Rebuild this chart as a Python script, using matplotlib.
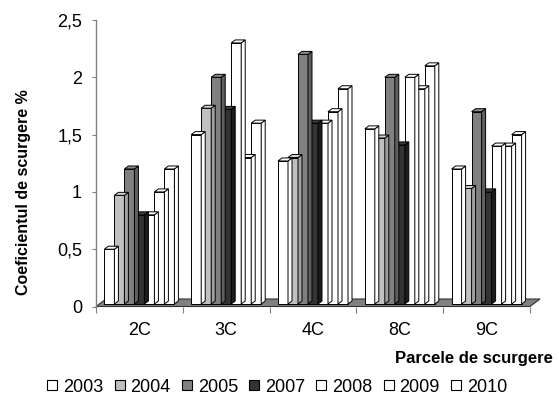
import numpy as np
import matplotlib
matplotlib.use("Agg")
import matplotlib.pyplot as plt
from matplotlib.patches import Polygon
from matplotlib.lines import Line2D

# ---- data ----
categories = ["2C", "3C", "4C", "8C", "9C"]
years = ["2003", "2004", "2005", "2007", "2008", "2009", "2010"]
v2003 = [0.50, 1.50, 1.27, 1.55, 1.20]
v2004 = [0.97, 1.73, 1.30, 1.47, 1.03]
v2005 = [1.20, 2.00, 2.20, 2.00, 1.70]
v2007 = [0.80, 1.72, 1.60, 1.41, 1.00]
v2008 = [0.80, 2.30, 1.60, 2.00, 1.40]
v2009 = [1.00, 1.30, 1.70, 1.90, 1.40]
v2010 = [1.20, 1.60, 1.90, 2.10, 1.50]
series = [v2003, v2004, v2005, v2007, v2008, v2009, v2010]
yticks = [0, 0.5, 1, 1.5, 2, 2.5]
ytick_labels = ["0", "0,5", "1", "1,5", "2", "2,5"]

# ---- style ----
front_cols = ["white", "#c0c0c0", "#808080", "#333333", "white", "white", "white"]
side_cols = ["white", "#a0a0a0", "#606060", "#1c1c1c", "white", "white", "white"]
top_cols = ["white", "#d0d0d0", "#8c8c8c", "#3c3c3c", "white", "white", "white"]

plt.rcParams['font.family'] = ['Liberation Sans', 'DejaVu Sans']

W, H = 559, 394
fig = plt.figure(figsize=(W / 100, H / 100), dpi=100)
x0, x1, ytop, ybot = 96, 530, 20, 306.5
ax = fig.add_axes([x0 / W, 1 - ybot / H, (x1 - x0) / W, (ybot - ytop) / H])
ax.set_xlim(-0.5, 4.5)
ax.set_ylim(0, 2.5)

px_cat = (x1 - x0) / 5.0
px_val = (ybot - ytop) / 2.5
w = 10 / px_cat
dx = 4 / px_cat
dy = 3 / px_val
b = 2.5 / px_val
fdx = 10 / px_cat
fdy = 7.5 / px_val

# floor
floor = Polygon([(-0.5, 0), (4.5, 0), (4.5 + fdx, fdy), (-0.5 + fdx, fdy)],
                closed=True, facecolor="#808080", edgecolor="#333333",
                lw=0.8, clip_on=False, zorder=1)
ax.add_patch(floor)

xs = np.arange(len(categories))
n = len(series)
for i, vals in enumerate(series):
    vals = np.array(vals)
    xc = xs + (i - 3) * w
    z = 3 + (n - 1 - i)
    ax.bar(xc, vals - b, bottom=b, width=w, color=front_cols[i],
           edgecolor="black", lw=0.7, zorder=z + 0.4)
    for xv, v in zip(xc, vals):
        r = xv + w / 2
        l = xv - w / 2
        side = Polygon([(r, b), (r + dx, b + dy), (r + dx, v + dy), (r, v)],
                       closed=True, facecolor=side_cols[i], edgecolor="black",
                       lw=0.7, zorder=z + 0.5)
        top = Polygon([(l, v), (l + dx, v + dy), (r + dx, v + dy), (r, v)],
                      closed=True, facecolor=top_cols[i], edgecolor="black",
                      lw=0.7, zorder=z + 0.5)
        ax.add_patch(side)
        ax.add_patch(top)

# axes styling
for s in ["top", "right", "bottom"]:
    ax.spines[s].set_visible(False)
ax.spines["left"].set_color("#808080")
ax.spines["left"].set_linewidth(1.0)

ax.set_yticks(yticks)
ax.set_yticklabels(ytick_labels, fontsize=13)
ax.tick_params(axis="y", length=3, color="#808080", pad=7)

ax.set_xticks(np.arange(-0.5, 5, 1))
ax.set_xticklabels([])
ax.tick_params(axis="x", which="major", length=4, color="#808080", direction="out")
ax.set_xticks(xs, minor=True)
ax.set_xticklabels(categories, minor=True, fontsize=13)
ax.tick_params(axis="x", which="minor", length=0, pad=11)

fig.text(24 / W, 1 - 192 / H, "Coeficientul de scurgere %", rotation=90,
         ha="center", va="center", fontsize=11.5, fontweight="bold")
fig.text(553 / W, 1 - 363 / H, "Parcele de scurgere", ha="right",
         va="baseline", fontsize=12, fontweight="bold")

handles = [Line2D([], [], ls="none", marker="s", markersize=7.5,
                  markerfacecolor=front_cols[i], markeredgecolor="black",
                  markeredgewidth=0.8) for i in range(len(years))]
fig.legend(handles, years, loc="center", bbox_to_anchor=(277 / W, 1 - 387 / H),
           ncol=7, frameon=False, fontsize=13, handlelength=0.6,
           handletextpad=0.3, columnspacing=0.6, borderpad=0, borderaxespad=0)

fig.savefig("out.png", dpi=100)
